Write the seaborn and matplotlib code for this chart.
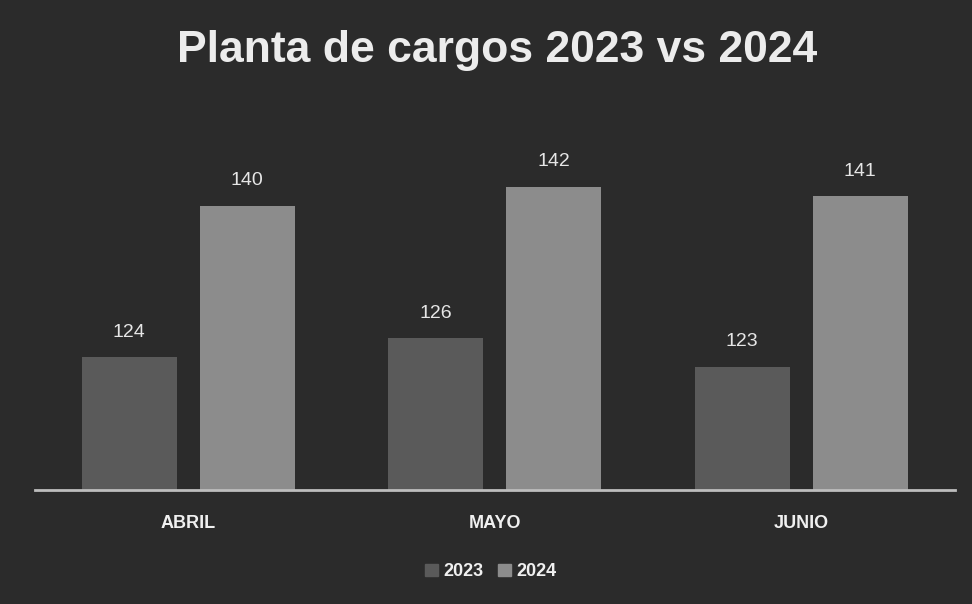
import pandas as pd
import matplotlib.pyplot as plt
import seaborn as sns

# chart data
months = ['ABRIL', 'MAYO', 'JUNIO']
years = ['2023', '2024']
values_2023 = [124, 126, 123]
values_2024 = [140, 142, 141]

df = pd.DataFrame({
    'mes': months * 2,
    'anio': ['2023'] * 3 + ['2024'] * 3,
    'valor': values_2023 + values_2024,
})

sns.set_theme(style='dark')
plt.rcParams['font.family'] = ['Liberation Sans', 'DejaVu Sans']

bg = '#2b2b2b'
fig = plt.figure(figsize=(9.72, 6.04), dpi=100, facecolor=bg)
ax = fig.add_axes([0.036, 0.189, 0.946, 0.71])
ax.set_facecolor(bg)

palette = {'2023': '#5a5a5a', '2024': '#8c8c8c'}
sns.barplot(data=df, x='mes', y='valor', hue='anio', hue_order=years,
            palette=palette, width=0.77, gap=0.195, linewidth=0,
            ax=ax, legend=False)

# value labels above bars
for cont in ax.containers:
    ax.bar_label(cont, padding=12, color='#e6e6e6', fontsize=14)

ax.set_ylim(110, 155.3)
ax.set_xlim(-0.5, 2.5)
ax.set_yticks([])
ax.set_xlabel('')
ax.set_ylabel('')
ax.tick_params(axis='x', length=0, pad=18, labelsize=13, labelcolor='#f0f0f0')
for lbl in ax.get_xticklabels():
    lbl.set_fontweight('bold')
for s in ['top', 'right', 'left']:
    ax.spines[s].set_visible(False)
ax.spines['bottom'].set_color('#bdbdbd')
ax.spines['bottom'].set_linewidth(2)
ax.grid(False)

fig.text(0.511, 0.917, 'Planta de cargos 2023 vs 2024', ha='center', va='center',
         fontsize=32, fontweight='bold', color='#ececec')

# legend at the bottom
handles = [plt.Rectangle((0, 0), 1, 1, color=palette[y]) for y in years]
fig.legend(handles, years, loc='center', bbox_to_anchor=(0.505, 0.053), ncol=2,
           frameon=False, handlelength=0.7, handleheight=0.7, handletextpad=0.3,
           columnspacing=0.8, prop={'weight': 'bold', 'size': 13},
           labelcolor='#f0f0f0')

plt.savefig('out.png', dpi=100, facecolor=bg)
